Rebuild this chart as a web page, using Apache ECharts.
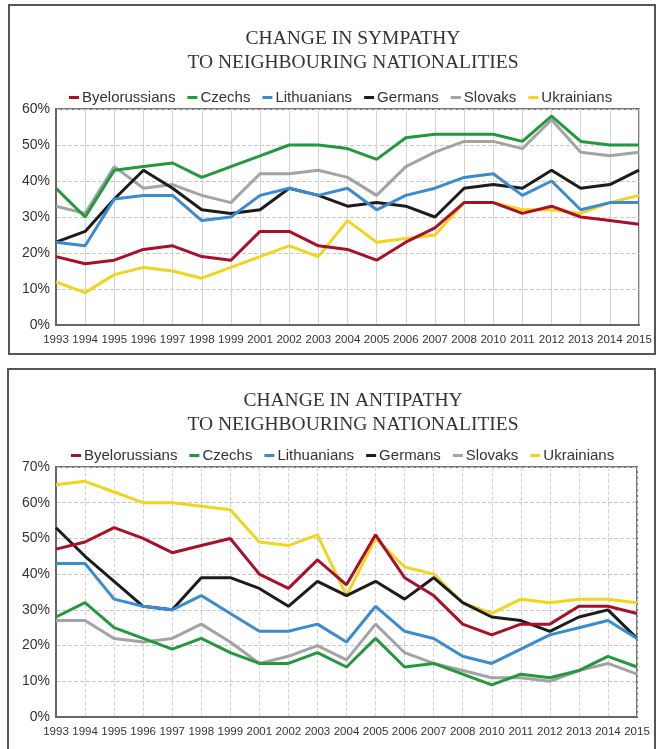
<!DOCTYPE html>
<html>
<head>
<meta charset="utf-8">
<script src="https://cdn.jsdelivr.net/npm/echarts@6/dist/echarts.min.js"></script>
<style>
html,body{margin:0;padding:0;background:#fff;}
#chart{width:658px;height:749px;}
</style>
</head>
<body>
<div id="chart"></div>
<script>
// Categories (note: 2000 and 2009 absent in the source)
const years = ['1993','1994','1995','1996','1997','1998','1999','2001','2002','2003','2004','2005','2006','2007','2008','2010','2011','2012','2013','2014','2015'];
const seriesNames = ['Byelorussians','Czechs','Lithuanians','Germans','Slovaks','Ukrainians'];
const seriesColors = ['#a8102a','#23983f','#3b8bd0','#1c1c1c','#a3a3a3','#f1d51d'];

// Sympathy (%)
const sympByelorussians = [19,17,18,21,22,19,18,26,26,22,21,18,23,27,34,34,31,33,30,29,28];
const sympCzechs        = [38,30,43,44,45,41,44,47,50,50,49,46,52,53,53,53,51,58,51,50,50];
const sympLithuanians   = [23,22,35,36,36,29,30,36,38,36,38,32,36,38,41,42,36,40,32,34,34];
const sympGermans       = [23,26,35,43,38,32,31,32,38,36,33,34,33,30,38,39,38,43,38,39,43];
const sympSlovaks       = [33,31,44,38,39,36,34,42,42,43,41,36,44,48,51,51,49,57,48,47,48];
const sympUkrainians    = [12,9,14,16,15,13,16,19,22,19,29,23,24,25,34,34,32,32,31,34,36];

// Antipathy (%)
const antiByelorussians = [47,49,53,50,46,48,50,40,36,44,37,51,39,34,26,23,26,26,31,31,29];
const antiCzechs        = [28,32,25,22,19,22,18,15,15,18,14,22,14,15,12,9,12,11,13,17,14];
const antiLithuanians   = [43,43,33,31,30,34,29,24,24,26,21,31,24,22,17,15,19,23,25,27,22];
const antiGermans       = [53,45,38,31,30,39,39,36,31,38,34,38,33,39,32,28,27,24,28,30,22];
const antiSlovaks       = [27,27,22,21,22,26,21,15,17,20,16,26,18,15,13,11,11,10,13,15,12];
const antiUkrainians    = [65,66,63,60,60,59,58,49,48,51,34,50,42,40,32,29,33,32,33,33,32];

// Y tick settings
const sympMax = 60, antiMax = 70, yStep = 10;

const sympData = [sympByelorussians,sympCzechs,sympLithuanians,sympGermans,sympSlovaks,sympUkrainians];
const antiData = [antiByelorussians,antiCzechs,antiLithuanians,antiGermans,antiSlovaks,antiUkrainians];

const chart = echarts.init(document.getElementById('chart'), null, {renderer:'canvas'});

const titleStyle = {fontFamily:'Liberation Serif', fontSize:19.5, fontWeight:'normal', color:'#333', lineHeight:24};
const legendBase = {
  icon:'rect', itemWidth:10, itemHeight:3, itemGap:12,
  textStyle:{fontFamily:'Liberation Sans', fontSize:15, color:'#333', padding:[0,0,0,-2]},
  data: seriesNames, selectedMode:false
};

function xAx(gi, dashed){
  return {
    type:'category', gridIndex:gi, data:years, boundaryGap:false,
    axisTick:{show:false},
    axisLine:{lineStyle:{color:'#666', width:2}},
    axisLabel:{interval:0, fontFamily:'Liberation Sans', fontSize:11.5, color:'#333', margin:9},
    splitLine:{show:true, lineStyle:{color:'#d4d4d4', width:1, type: dashed ? 'dashed' : 'solid'}}
  };
}
function yAx(gi, max){
  return {
    type:'value', gridIndex:gi, min:0, max:max, interval:yStep,
    axisTick:{show:false},
    axisLine:{show:true, lineStyle:{color:'#666', width:2}},
    axisLabel:{formatter:'{value}%', fontFamily:'Liberation Sans', fontSize:14, color:'#333', margin:6},
    splitLine:{show:true, lineStyle:{color:'#c8c8c8', width:1, type:'dashed'}}
  };
}

const series = [];
// draw order: Ukrainians first (underneath), then the rest
const order = [5,4,3,2,1,0];
[sympData, antiData].forEach((set, gi) => {
  order.forEach(i => {
    series.push({
      name: seriesNames[i], type:'line', xAxisIndex:gi, yAxisIndex:gi,
      data: set[i], showSymbol:false, symbol:'none',
      lineStyle:{width:3, color:seriesColors[i]}, itemStyle:{color:seriesColors[i]},
      z: 2
    });
  });
});

chart.setOption({
  animation:false,
  backgroundColor:'#fff',
  color: seriesColors,
  title:[
    {text:'CHANGE IN SYMPATHY\nTO NEIGHBOURING NATIONALITIES', left:348, top:22, textAlign:'center', textStyle:titleStyle},
    {text:'CHANGE IN ANTIPATHY\nTO NEIGHBOURING NATIONALITIES', left:348, top:384, textAlign:'center', textStyle:titleStyle}
  ],
  legend:[
    Object.assign({}, legendBase, {left:64, top:85}),
    Object.assign({}, legendBase, {left:66, top:443})
  ],
  grid:[
    {left:56, right:19, top:109, height:216, show:true, borderColor:'#777', borderWidth:2, backgroundColor:'transparent'},
    {left:56, right:21, top:467, height:250, show:true, borderColor:'#777', borderWidth:2, backgroundColor:'transparent'}
  ],
  xAxis:[xAx(0,false), xAx(1,true)],
  yAxis:[yAx(0,sympMax), yAx(1,antiMax)],
  series: series,
  graphic:[
    {type:'rect', shape:{x:9, y:5, width:646, height:349}, style:{fill:'none', stroke:'#555', lineWidth:2}, z:-1, silent:true},
    {type:'rect', shape:{x:8, y:369, width:647, height:390}, style:{fill:'none', stroke:'#555', lineWidth:2}, z:-1, silent:true}
  ]
});
</script>
</body>
</html>
